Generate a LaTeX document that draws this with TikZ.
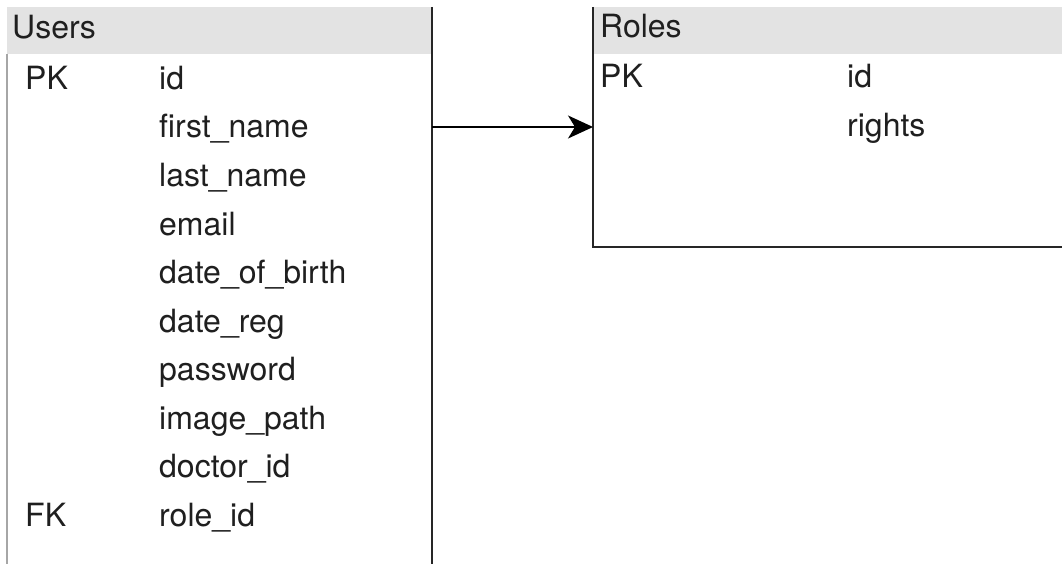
\documentclass[tikz,border=0pt]{standalone}
\usepackage{fontspec}
\setmainfont{TeX Gyre Heros}
\usetikzlibrary{arrows.meta}
\definecolor{headgray}{HTML}{E3E3E3}
\begin{document}
\begin{tikzpicture}[x=1pt, y=-1pt]
  \tikzstyle{tbl}=[rectangle, inner sep=0pt, outer sep=0pt]
  \tikzstyle{head}=[tbl, fill=headgray]
  \tikzstyle{txt}=[anchor=base west, inner sep=0pt, text=black!88, font=\fontsize{32}{36}\selectfont]
  \tikzstyle{frame}=[line width=2pt, black!85]
  \tikzstyle{side}=[line width=1.2pt, black!35]
  \tikzstyle{edge}=[-{Stealth[length=25pt, width=23pt, inset=7pt]}, line width=1.8pt]

  \useasboundingbox (0,0) rectangle (1062,564);

  % tables
  \node[tbl, minimum width=425pt, minimum height=557pt] (users) at (219.5, 285.5) {};
  \node[head, minimum width=425pt, minimum height=47pt] (uhead) at (219.5, 30.5)  {};
  \node[tbl, minimum width=470pt, minimum height=240pt] (roles) at (828,   127)   {};
  \node[head, minimum width=470pt, minimum height=47pt] (rhead) at (828,   30.5)  {};

  \draw[side]  (uhead.south west) -- (users.south west);
  \draw[frame] (users.north east) -- (users.south east);
  \draw[frame] (roles.north west) -- (roles.south west) -- (roles.south east);

  % Users
  \node[txt] (ut)  at (12,  38.5)  {Users};
  \node[txt] (uk0) at (25,  89.5)  {PK};
  \node[txt] (uf0) at (159, 89.5)  {id};
  \node[txt] (uf1) at (159, 138)   {first\_name};
  \node[txt] (uf2) at (159, 186.5) {last\_name};
  \node[txt] (uf3) at (159, 235)   {email};
  \node[txt] (uf4) at (159, 283.5) {date\_of\_birth};
  \node[txt] (uf5) at (159, 332)   {date\_reg};
  \node[txt] (uf6) at (159, 380.5) {password};
  \node[txt] (uf7) at (159, 429)   {image\_path};
  \node[txt] (uf8) at (159, 477.5) {doctor\_id};
  \node[txt] (uk9) at (25,  526)   {FK};
  \node[txt] (uf9) at (159, 526)   {role\_id};

  % Roles
  \node[txt] (rt)  at (600, 37.5)  {Roles};
  \node[txt] (rk0) at (600, 87.5)  {PK};
  \node[txt] (rf0) at (847, 87.5)  {id};
  \node[txt] (rf1) at (847, 136.5) {rights};

  \path[edge] (users.east |- roles.west) edge (roles.west);
\end{tikzpicture}
\end{document}
